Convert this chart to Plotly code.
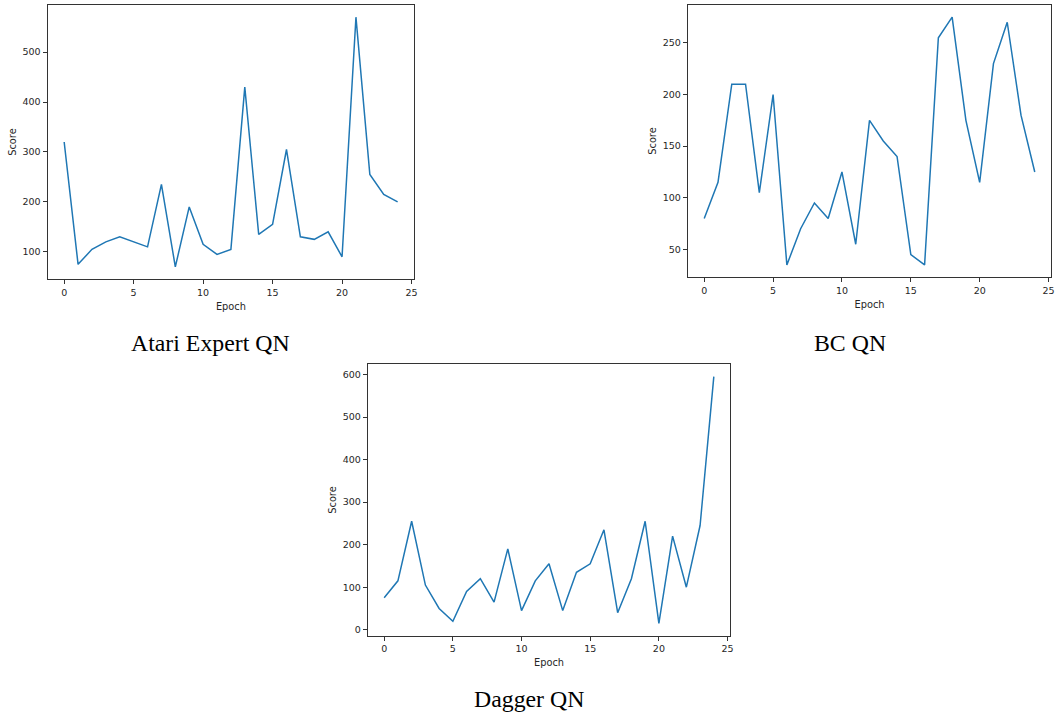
import plotly.graph_objects as go

W, H = 1057, 717

epochs = list(range(25))
atari_scores = [320, 75, 105, 120, 130, 120, 110, 235, 70, 190, 115, 95, 105, 430,
                135, 155, 305, 130, 125, 140, 90, 570, 255, 215, 200]
bc_scores = [80, 115, 210, 210, 105, 200, 35, 70, 95, 80, 125, 55, 175, 155, 140,
             45, 35, 255, 275, 175, 115, 230, 270, 180, 125]
dagger_scores = [75, 115, 255, 105, 50, 20, 90, 120, 65, 190, 45, 115, 155, 45, 135,
                 155, 235, 40, 120, 255, 15, 220, 100, 245, 595]

panel_titles = ["Atari Expert QN", "BC QN", "Dagger QN"]
x_ticks = [0, 5, 10, 15, 20, 25]
atari_yticks = [100, 200, 300, 400, 500]
bc_yticks = [50, 100, 150, 200, 250]
dagger_yticks = [0, 100, 200, 300, 400, 500, 600]

# panel boxes in pixels: left, top, right, bottom
boxes = [
    (47.5, 4.7, 414.3, 279.3),
    (687.7, 4.7, 1051.3, 277.3),
    (367.7, 364.3, 730.3, 635.7),
]
title_pos = [(210, 343), (850, 343), (529, 699)]

series = [atari_scores, bc_scores, dagger_scores]
yticks = [atari_yticks, bc_yticks, dagger_yticks]

fig = go.Figure()
TICKFONT = dict(family="DejaVu Sans", size=9.5, color="#262626")
LABFONT = dict(family="DejaVu Sans", size=9.8, color="#262626")


def padded(vals):
    lo, hi = min(vals), max(vals)
    p = 0.05 * (hi - lo)
    return [lo - p, hi + p]


layout = {}
for i, (vals, yt, box) in enumerate(zip(series, yticks, boxes)):
    n = "" if i == 0 else str(i + 1)
    fig.add_trace(go.Scatter(x=epochs, y=vals, mode="lines",
                             line=dict(color="#1f77b4", width=1.5),
                             xaxis="x" + n, yaxis="y" + n, showlegend=False))
    l, t, r, b = box
    common = dict(showline=True, mirror=True, linecolor="#333333", linewidth=1,
                  ticks="outside", ticklen=4, tickcolor="#333333", tickwidth=1,
                  showgrid=False, zeroline=False, tickfont=TICKFONT,
                  automargin=False)
    layout["xaxis" + n] = dict(domain=[l / W, r / W], anchor="y" + n,
                               range=padded(epochs), tickmode="array",
                               tickvals=x_ticks,
                               title=dict(text="Epoch", font=LABFONT, standoff=6),
                               **common)
    layout["yaxis" + n] = dict(domain=[1 - b / H, 1 - t / H], anchor="x" + n,
                               range=padded(vals), tickmode="array", tickvals=yt,
                               title=dict(text="Score", font=LABFONT, standoff=4),
                               **common)

annotations = []
for txt, (cx, cy) in zip(panel_titles, title_pos):
    annotations.append(dict(text=txt, x=cx / W, y=1 - cy / H, xref="paper",
                            yref="paper", showarrow=False, xanchor="center",
                            yanchor="middle",
                            font=dict(family="Liberation Serif", size=23.8,
                                      color="#000000")))

fig.update_layout(width=W, height=H, margin=dict(l=0, r=0, t=0, b=0),
                  paper_bgcolor="white", plot_bgcolor="white",
                  annotations=annotations, **layout)
fig.write_html("out.html", config={"displayModeBar": False},
               post_script="document.body.style.margin='0';"
                           "document.body.style.overflow='hidden';")
